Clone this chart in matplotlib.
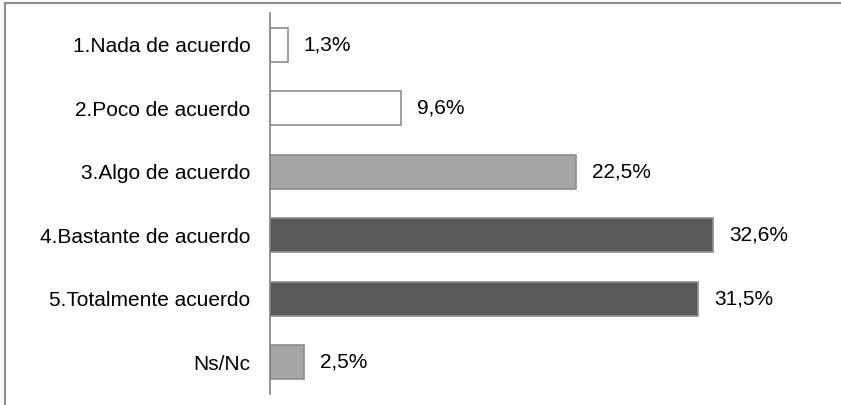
import matplotlib.pyplot as plt
from matplotlib.lines import Line2D

plt.rcParams['font.family'] = ['Liberation Sans', 'DejaVu Sans']

categorias = ['1.Nada de acuerdo', '2.Poco de acuerdo', '3.Algo de acuerdo',
              '4.Bastante de acuerdo', '5.Totalmente acuerdo', 'Ns/Nc']
porcentajes = [1.3, 9.6, 22.5, 32.6, 31.5, 2.5]
etiquetas = ['1,3%', '9,6%', '22,5%', '32,6%', '31,5%', '2,5%']
colores = ['#ffffff', '#ffffff', '#a6a6a6', '#595959', '#595959', '#a6a6a6']

fig = plt.figure(figsize=(8.41, 4.05), dpi=100)
ax = fig.add_axes([270 / 841, 11 / 405, 544 / 841, 381 / 405])

y = list(range(len(categorias)))
ax.barh(y, porcentajes, height=0.54, color=colores, edgecolor='#8c8c8c', linewidth=1.2)

for yi, v, t in zip(y, porcentajes, etiquetas):
    ax.annotate(t, (v, yi), xytext=(11.5, 0), textcoords='offset points',
                va='center', ha='left', fontsize=15, color='black')

ax.set_xlim(0, 40)
ax.set_ylim(len(categorias) - 0.5, -0.5)
ax.set_yticks(y)
ax.set_yticklabels(categorias, fontsize=15)
ax.tick_params(axis='y', length=0, pad=14)
ax.set_xticks([])
for s in ['top', 'right', 'bottom']:
    ax.spines[s].set_visible(False)
ax.spines['left'].set_color('#808080')
ax.spines['left'].set_linewidth(1.2)

# marco exterior (solo arriba e izquierda visibles)
fig.add_artist(Line2D([5 / 841, 1], [1 - 2.5 / 405, 1 - 2.5 / 405], transform=fig.transFigure,
                      color='#8c8c8c', linewidth=1.5))
fig.add_artist(Line2D([5 / 841, 5 / 841], [0, 1 - 2.5 / 405], transform=fig.transFigure,
                      color='#8c8c8c', linewidth=1.5))

fig.savefig('out.png', dpi=100)
